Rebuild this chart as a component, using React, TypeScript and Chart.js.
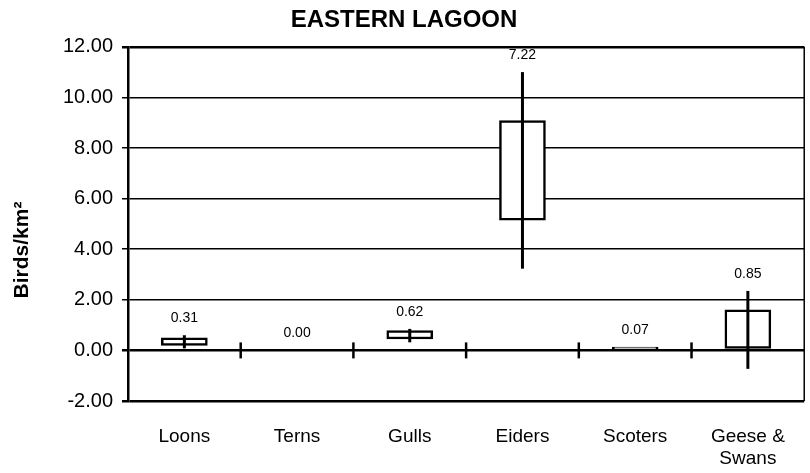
import React, { useEffect, useRef } from "react";
import { Chart, registerables } from "chart.js";

Chart.register(...registerables);

const categories: (string | string[])[] = ["Loons", "Terns", "Gulls", "Eiders", "Scoters", ["Geese &", "Swans"]];
const meanValues = [0.31, 0.0, 0.62, 7.22, 0.07, 0.85];
const boxLow: (number | null)[] = [0.2, null, 0.45, 5.15, 0.0, 0.08];
const boxHigh: (number | null)[] = [0.5, null, 0.78, 9.08, 0.13, 1.6];
const whiskerLow: (number | null)[] = [0.08, null, 0.32, 3.23, null, -0.73];
const whiskerHigh: (number | null)[] = [0.6, null, 0.85, 11.0, null, 2.35];
const yTicks = [-2, 0, 2, 4, 6, 8, 10, 12];
const yTitle = "Birds/km²";

const FONT = "'Liberation Sans', Arial, sans-serif";

const overlayPlugin = {
  id: "overlay",
  afterDatasetsDraw(chart: any) {
    const { ctx, chartArea, scales } = chart;
    const x = scales.x;
    const y = scales.y;
    ctx.save();
    // right border
    ctx.strokeStyle = "#000";
    ctx.lineWidth = 1.5;
    ctx.beginPath();
    ctx.moveTo(chartArea.right, chartArea.top);
    ctx.lineTo(chartArea.right, chartArea.bottom);
    ctx.stroke();
    // tick marks on the zero line between categories
    const y0 = y.getPixelForValue(0);
    ctx.lineWidth = 2.5;
    for (let i = 1; i < categories.length; i++) {
      const bx = (x.getPixelForValue(i - 1) + x.getPixelForValue(i)) / 2;
      ctx.beginPath();
      ctx.moveTo(bx, y0 - 8);
      ctx.lineTo(bx, y0 + 8);
      ctx.stroke();
    }
    // whiskers
    ctx.lineWidth = 3;
    categories.forEach((_, i) => {
      const lo = whiskerLow[i];
      const hi = whiskerHigh[i];
      if (lo == null || hi == null) return;
      const cx = x.getPixelForValue(i);
      ctx.beginPath();
      ctx.moveTo(cx, y.getPixelForValue(lo));
      ctx.lineTo(cx, y.getPixelForValue(hi));
      ctx.stroke();
    });
    // mean labels
    ctx.fillStyle = "#000";
    ctx.font = `14px ${FONT}`;
    ctx.textAlign = "center";
    ctx.textBaseline = "middle";
    categories.forEach((_, i) => {
      const top = Math.max(whiskerHigh[i] ?? 0, boxHigh[i] ?? 0, 0);
      const cx = x.getPixelForValue(i);
      ctx.fillText(meanValues[i].toFixed(2), cx, y.getPixelForValue(top) - 17);
    });
    // y axis title
    ctx.save();
    ctx.translate(22, 250);
    ctx.rotate(-Math.PI / 2);
    ctx.font = `bold 21px ${FONT}`;
    ctx.fillText(yTitle, 0, 0);
    ctx.restore();
    ctx.restore();
  },
};

export default function App() {
  const ref = useRef<HTMLCanvasElement | null>(null);
  useEffect(() => {
    if (!ref.current) return;
    const chart = new Chart(ref.current, {
      type: "bar",
      data: {
        labels: categories as any,
        datasets: [
          {
            data: categories.map((_, i) =>
              boxLow[i] == null || boxHigh[i] == null ? null : [boxLow[i], boxHigh[i]]
            ) as any,
            backgroundColor: "#fff",
            borderColor: "#000",
            borderWidth: 2.5,
            borderSkipped: false,
            barThickness: 46,
          },
        ],
      },
      options: {
        responsive: false,
        animation: false,
        layout: { padding: { left: 0, right: 2, top: 0, bottom: 0 } },
        plugins: {
          legend: { display: false },
          tooltip: { enabled: false },
          title: {
            display: true,
            text: "EASTERN LAGOON",
            color: "#000",
            font: { family: FONT, size: 24, weight: "bold", lineHeight: 1.2 },
            padding: { top: 6, bottom: 12 },
          },
        },
        scales: {
          x: {
            grid: { display: false, drawTicks: false },
            border: { display: false },
            ticks: {
              color: "#000",
              font: { family: FONT, size: 19, lineHeight: 1.15 },
              padding: 25,
              maxRotation: 0,
              autoSkip: false,
            },
            afterFit(scale: any) {
              scale.height = 72;
            },
          },
          y: {
            min: -2,
            max: 12,
            afterBuildTicks(scale: any) {
              scale.ticks = yTicks.map((v) => ({ value: v }));
            },
            grid: {
              color: "#000",
              lineWidth: (c: any) => {
                const v = c.tick ? c.tick.value : null;
                return v === 0 || v === 12 || v === -2 ? 2.5 : 1.5;
              },
              drawTicks: true,
              tickLength: 6,
            },
            border: { display: true, color: "#000", width: 2.5 },
            ticks: {
              color: "#000",
              font: { family: FONT, size: 20 },
              padding: 9,
              callback: (v: any) => Number(v).toFixed(2),
            },
            afterFit(scale: any) {
              scale.width = 128;
            },
          },
        },
      },
      plugins: [overlayPlugin],
    });
    return () => chart.destroy();
  }, []);
  return (
    <div style={{ position: "fixed", left: 0, top: 0, width: 810, height: 473, background: "#fff" }}>
      <canvas ref={ref} width={810} height={473} />
    </div>
  );
}
